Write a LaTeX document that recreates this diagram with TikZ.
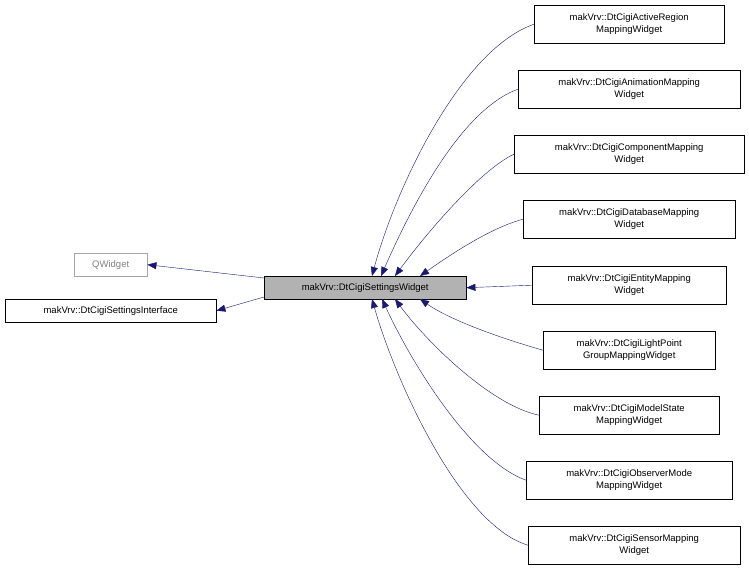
\documentclass[tikz,border=0pt]{standalone}
\usepackage{fontspec}
\setmainfont{Liberation Sans}
\usetikzlibrary{arrows.meta}
\definecolor{navy}{HTML}{191970}
\begin{document}
\begin{tikzpicture}[x=1pt,y=-1pt,
 box/.style={draw=black,fill=white,inner sep=0pt,align=center,font=\fontsize{9.5}{11.5}\selectfont,anchor=north west},
 edge/.style={navy,{Triangle[length=9pt,width=7pt]}-}]
\useasboundingbox (0,0) rectangle (749,573);
\node[box,draw=gray!70,text=gray,minimum width=73pt,minimum height=23pt] (q) at (74,253) {QWidget};
\node[box,minimum width=211pt,minimum height=23pt] (si) at (5,299) {makVrv::DtCigiSettingsInterface};
\node[box,fill=gray!60,minimum width=202pt,minimum height=23pt] (c) at (264,276) {makVrv::DtCigiSettingsWidget};
\node[box,minimum width=190pt,minimum height=38pt] (b1) at (534,5) {makVrv::DtCigiActiveRegion\\MappingWidget};
\node[box,minimum width=222pt,minimum height=38pt] (b2) at (518,70) {makVrv::DtCigiAnimationMapping\\Widget};
\node[box,minimum width=230pt,minimum height=38pt] (b3) at (514,135) {makVrv::DtCigiComponentMapping\\Widget};
\node[box,minimum width=212pt,minimum height=38pt] (b4) at (523,200) {makVrv::DtCigiDatabaseMapping\\Widget};
\node[box,minimum width=194pt,minimum height=38pt] (b5) at (532,266) {makVrv::DtCigiEntityMapping\\Widget};
\node[box,minimum width=172pt,minimum height=38pt] (b6) at (543,331) {makVrv::DtCigiLightPoint\\GroupMappingWidget};
\node[box,minimum width=180pt,minimum height=38pt] (b7) at (539,396) {makVrv::DtCigiModelState\\MappingWidget};
\node[box,minimum width=206pt,minimum height=38pt] (b8) at (526,461) {makVrv::DtCigiObserverMode\\MappingWidget};
\node[box,minimum width=212pt,minimum height=38pt] (b9) at (528,526) {makVrv::DtCigiSensorMapping\\Widget};
\coordinate (t1) at (372,276); \coordinate (t2) at (381,276); \coordinate (t3) at (395,276); \coordinate (t4) at (420,276);
\coordinate (u1) at (372,299); \coordinate (u2) at (382,299); \coordinate (u3) at (395,299); \coordinate (u4) at (420,299);
\draw[edge] (q.east) -- (c.west |- 0,278);
\draw[edge] (si.east) -- (c.west |- 0,297);
\draw[edge] (t1) .. controls (395,190) and (460,50) .. (b1.west);
\draw[edge] (t2) .. controls (410,210) and (460,110) .. (b2.west);
\draw[edge] (t3) .. controls (425,235) and (480,170) .. (b3.west);
\draw[edge] (t4) .. controls (450,255) and (490,228) .. (b4.west);
\draw[edge] (c.east) -- (b5.west);
\draw[edge] (u4) .. controls (450,320) and (500,338) .. (b6.west);
\draw[edge] (u3) .. controls (425,340) and (490,405) .. (b7.west);
\draw[edge] (u2) .. controls (410,360) and (470,460) .. (b8.west);
\draw[edge] (u1) .. controls (395,380) and (460,525) .. (b9.west);
\end{tikzpicture}
\end{document}
